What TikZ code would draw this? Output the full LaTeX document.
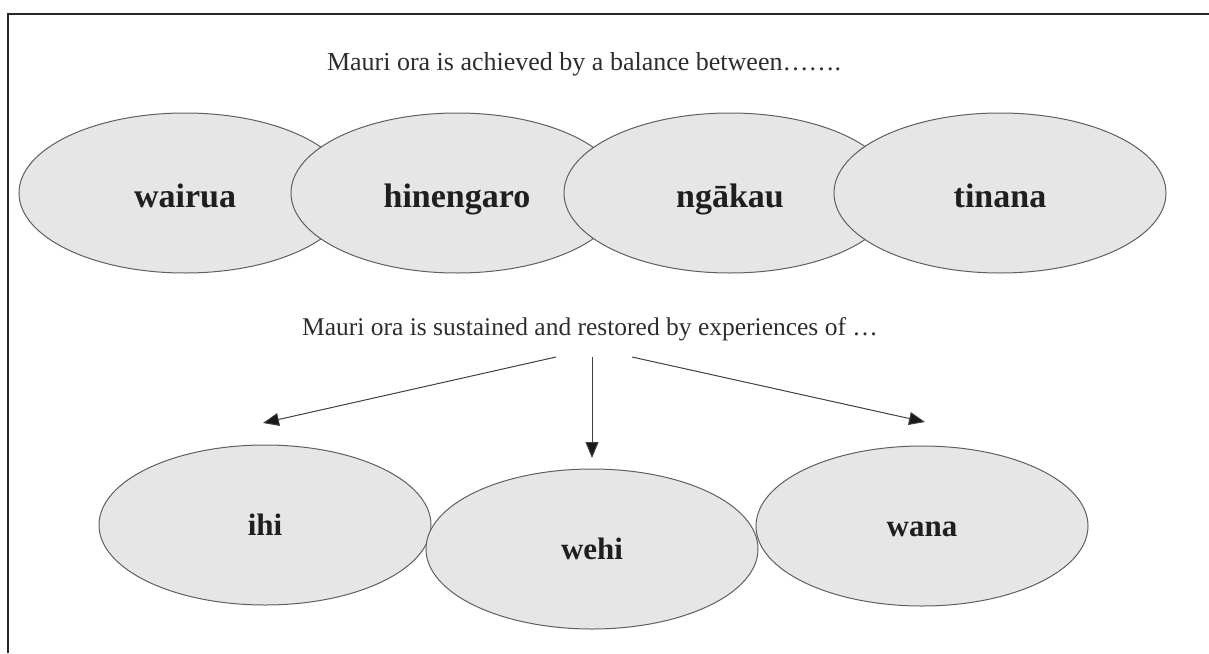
\documentclass[tikz,border=0pt]{standalone}
\usepackage{fontspec}
\setmainfont{Liberation Serif}
\usetikzlibrary{arrows.meta,shapes.geometric}
\definecolor{bubblefill}{RGB}{230,230,230}
\definecolor{bubbleline}{RGB}{95,95,95}
\definecolor{inktext}{RGB}{45,45,45}
\tikzset{
    every node/.style={align=center,},
    bubble/.style={draw=bubbleline,fill=bubblefill,ellipse,line width=1pt,inner sep=0pt,
        minimum width=332pt,minimum height=160pt,text=black!88,text depth=0pt,},
    toprow/.style={bubble,text height=28pt,font=\fontsize{34}{40}\selectfont\bfseries,},
    lowrow/.style={bubble,text height=20pt,font=\fontsize{31}{36}\selectfont\bfseries,},
    caption/.style={anchor=base,text=inktext,font=\fontsize{26}{30}\selectfont,},
    link/.style={draw=black!75,line width=1pt,-{Triangle[length=16pt,width=13pt,fill=black!90]},},
}
\begin{document}
\begin{tikzpicture}[x=1pt,y=-1pt]
        \useasboundingbox (0,0) rectangle (1209,653);
        \draw[line width=1.6pt,black!85] (8,653) |- (1209,14);

        \node[caption] (balance) at (584,70) {Mauri ora is achieved by a balance between…….};

        \node[toprow] (wairua) at (185,193) {wairua};
        \node[toprow] (hinengaro) at (457,193) {hinengaro};
        \node[toprow] (ngakau) at (730,193) {ngākau};
        \node[toprow] (tinana) at (1000,193) {tinana};

        \node[caption,font=\fontsize{25.5}{30}\selectfont] (sustained) at (590,335) {Mauri ora is sustained and restored by experiences of …};

        \node[lowrow] (ihi) at (265,525) {ihi};
        \node[lowrow] (wehi) at (592,549) {wehi};
        \node[lowrow] (wana) at (922,526) {wana};

        \coordinate (from-ihi) at (556,357);
        \coordinate (from-wehi) at (592,357);
        \coordinate (from-wana) at (632,357);
        \coordinate (to-ihi) at (263,423);
        \coordinate (to-wehi) at (592,458);
        \coordinate (to-wana) at (925,422);

        \draw[link] (from-ihi) -- (to-ihi);
        \draw[link] (from-wehi) -- (to-wehi);
        \draw[link] (from-wana) -- (to-wana);
    \end{tikzpicture}
\end{document}
